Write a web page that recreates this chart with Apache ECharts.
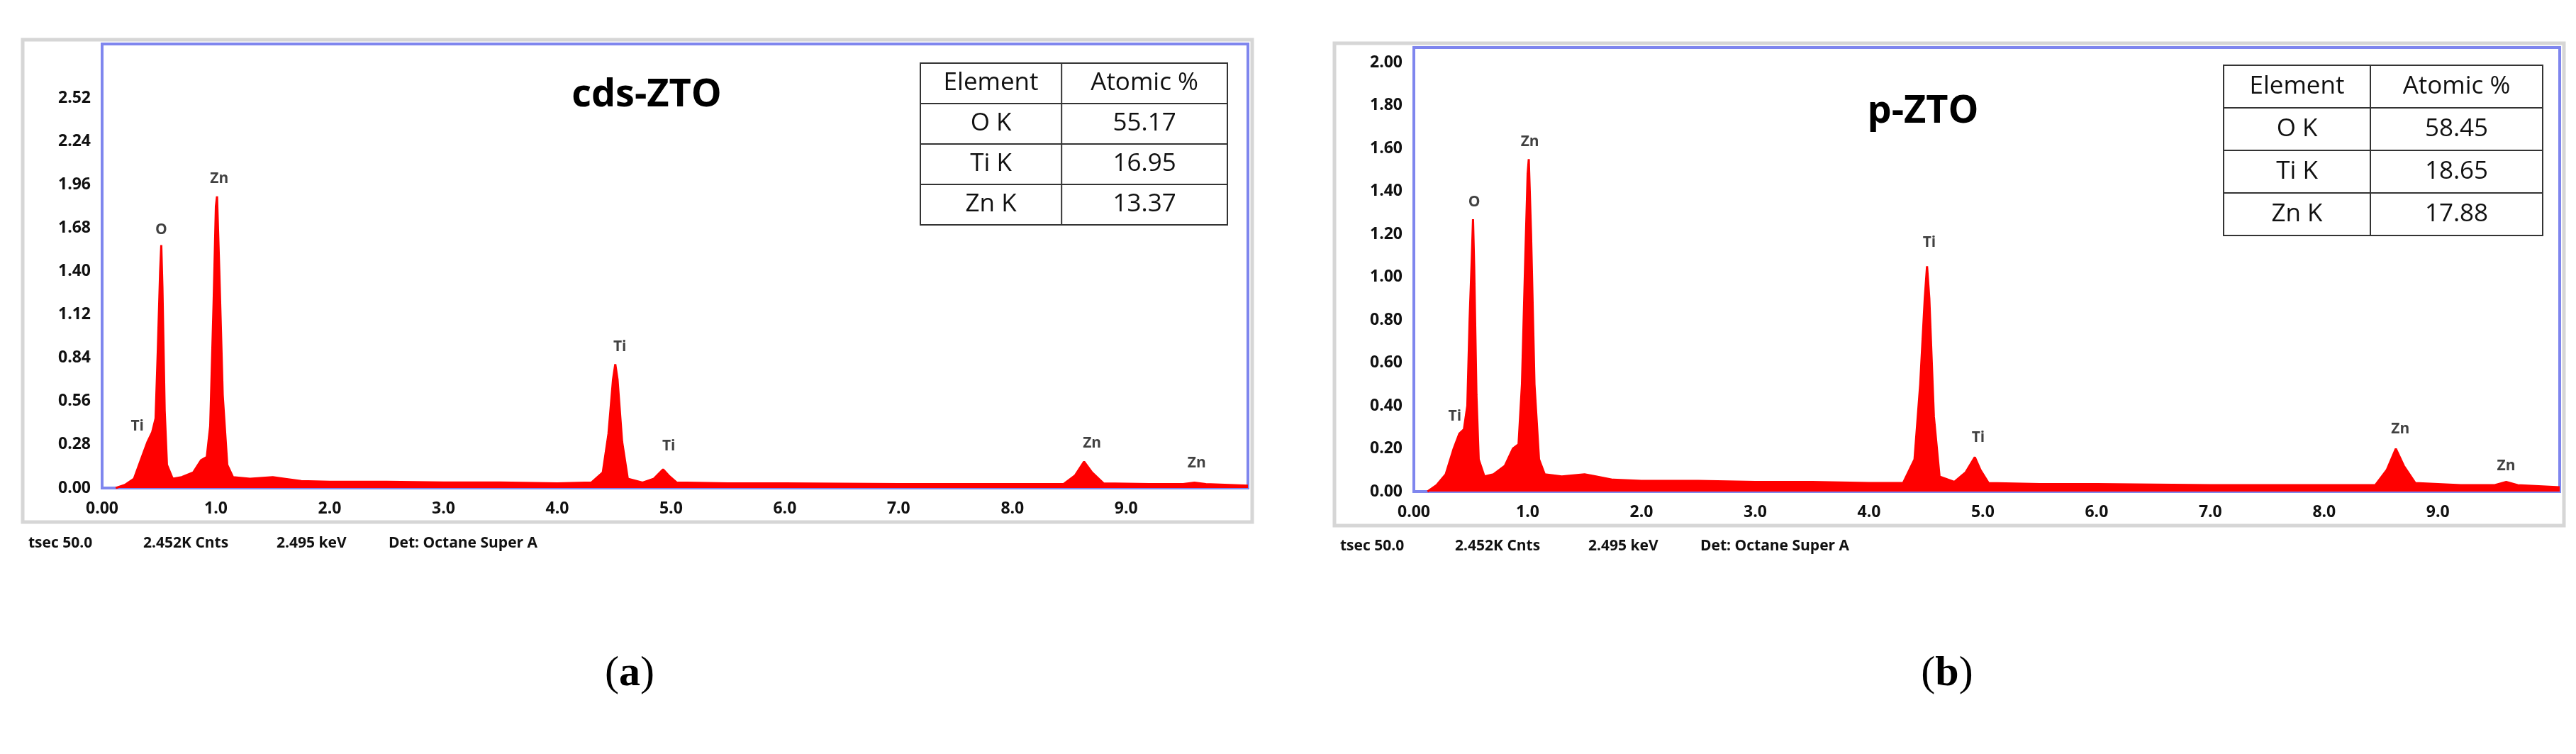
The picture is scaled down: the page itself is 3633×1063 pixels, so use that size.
<!DOCTYPE html>
<html>
<head>
<meta charset="utf-8">
<script src="https://cdn.jsdelivr.net/npm/echarts@6/dist/echarts.min.js"></script>
<style>html,body{margin:0;background:#fff}</style>
</head>
<body>
<div id="main" style="width:3633px;height:1063px;"></div>
<script>
// spectrum (a) cds-ZTO, [keV, counts]
var specA = [[0.12,0],[0.2,0.02],[0.28,0.06],[0.35,0.2],[0.40,0.3],[0.44,0.36],[0.47,0.45],[0.49,0.9],[0.51,1.4],[0.52,1.57],[0.53,1.3],[0.55,0.5],[0.57,0.15],[0.62,0.06],[0.7,0.07],[0.8,0.1],[0.87,0.18],[0.92,0.2],[0.95,0.4],[0.98,1.2],[1.0,1.82],[1.01,1.885],[1.03,1.4],[1.06,0.6],[1.1,0.15],[1.15,0.07],[1.3,0.06],[1.5,0.07],[1.6,0.06],[1.75,0.045],[2.0,0.04],[2.5,0.04],[3.0,0.035],[3.5,0.035],[4.0,0.03],[4.3,0.035],[4.4,0.1],[4.45,0.35],[4.49,0.7],[4.51,0.8],[4.53,0.7],[4.57,0.3],[4.62,0.06],[4.75,0.035],[4.85,0.06],[4.93,0.12],[4.98,0.08],[5.05,0.035],[5.5,0.03],[6.0,0.03],[7.0,0.025],[8.0,0.025],[8.45,0.025],[8.55,0.08],[8.63,0.17],[8.7,0.1],[8.8,0.03],[9.2,0.025],[9.5,0.025],[9.6,0.035],[9.7,0.025],[10.07,0.015]];
// spectrum (b) p-ZTO
var specB = [[0.12,0],[0.2,0.03],[0.28,0.08],[0.35,0.2],[0.40,0.27],[0.44,0.29],[0.47,0.4],[0.49,0.8],[0.51,1.1],[0.52,1.27],[0.53,1.05],[0.55,0.45],[0.57,0.15],[0.62,0.07],[0.7,0.08],[0.8,0.12],[0.87,0.2],[0.92,0.22],[0.95,0.5],[0.98,1.1],[1.0,1.48],[1.01,1.55],[1.03,1.2],[1.06,0.5],[1.1,0.15],[1.15,0.08],[1.3,0.07],[1.5,0.08],[1.6,0.07],[1.75,0.055],[2.0,0.05],[2.5,0.05],[3.0,0.045],[3.5,0.045],[4.0,0.04],[4.3,0.04],[4.4,0.15],[4.45,0.5],[4.49,0.9],[4.51,1.05],[4.53,0.9],[4.57,0.35],[4.62,0.07],[4.75,0.045],[4.85,0.09],[4.93,0.16],[4.98,0.1],[5.05,0.04],[5.5,0.035],[6.0,0.035],[7.0,0.03],[8.0,0.03],[8.45,0.03],[8.55,0.1],[8.63,0.2],[8.7,0.12],[8.8,0.04],[9.2,0.03],[9.5,0.03],[9.6,0.045],[9.7,0.03],[10.07,0.02]];
// peak labels [keV, y, text]
var peaksA = [[0.31,0.40,'Ti'],[0.52,1.67,'O'],[1.03,2.0,'Zn'],[4.55,0.91,'Ti'],[4.98,0.27,'Ti'],[8.7,0.29,'Zn'],[9.62,0.16,'Zn']];
var peaksB = [[0.36,0.35,'Ti'],[0.53,1.35,'O'],[1.02,1.63,'Zn'],[4.53,1.16,'Ti'],[4.96,0.25,'Ti'],[8.67,0.29,'Zn'],[9.6,0.12,'Zn']];
var xTickLabels = ['0.00','1.0','2.0','3.0','4.0','5.0','6.0','7.0','8.0','9.0'];
var tableHeader = ['Element','Atomic %'];
var elements = ['O K','Ti K','Zn K'];
var atomicA = ['55.17','16.95','13.37'];
var atomicB = ['58.45','18.65','17.88'];
var titles = ['cds-ZTO','p-ZTO'];
var footer = ['tsec 50.0','2.452K Cnts','2.495 keV','Det: Octane Super A'];
var panelLetters = ['a','b'];

var FONT = 'Open Sans';
var chart = echarts.init(document.getElementById('main'));

function xAxis(i){
  return {gridIndex:i,type:'value',min:0,max:10.07,interval:1,
    axisLine:{show:false},axisTick:{show:false},splitLine:{show:false},
    axisLabel:{margin:18,fontFamily:FONT,fontWeight:'bold',fontSize:23,color:'#111',
      formatter:function(v){var k=Math.round(v);return (Math.abs(v-k)<1e-6&&k<xTickLabels.length)?xTickLabels[k]:'';}}};
}
function yAxis(i,max,step,top){
  return {gridIndex:i,type:'value',min:0,max:max,interval:step,
    axisLine:{show:false},axisTick:{show:false},splitLine:{show:false},
    axisLabel:{margin:16,fontFamily:FONT,fontWeight:'bold',fontSize:23,color:'#111',
      formatter:function(v){return v>top?'':v.toFixed(2);}}};
}
function spec(i,d){
  return {type:'line',xAxisIndex:i,yAxisIndex:i,data:d,symbol:'none',silent:true,
    lineStyle:{color:'#ff0000',width:3},areaStyle:{color:'#ff0000',opacity:1}};
}
function peaks(i,d){
  return {type:'scatter',xAxisIndex:i,yAxisIndex:i,symbolSize:0,silent:true,
    data:d.map(function(p){return {value:[p[0],p[1]],name:p[2]};}),
    label:{show:true,position:'inside',formatter:'{b}',fontFamily:FONT,fontWeight:'bold',fontSize:21,color:'#111'}};
}

var graphic = [];
var panels = [
  {ox:0, box:[144,62,1616,626], title:[912,135], table:[1298,89,433,228], vals:atomicA, foot:766, lab:888},
  {ox:1850, box:[1994,67,1616,626], title:[2712,158], table:[3136,92,450,240], vals:atomicB, foot:770, lab:2746}
];
panels.forEach(function(p,i){
  // outer frame
  graphic.push({type:'rect',z:-1,shape:{x:p.ox+32,y:p.box[1]-6,width:1734,height:680},
    style:{fill:'#fff',stroke:'#d6d6d6',lineWidth:5}});
  graphic.push({type:'text',x:p.title[0],y:p.title[1],style:{text:titles[i],font:'bold 54px '+FONT,fill:'#000',textAlign:'center',textVerticalAlign:'middle'}});
  var t=p.table, rh=t[3]/4, c1=t[2]*0.46;
  graphic.push({type:'rect',z:10,shape:{x:t[0],y:t[1],width:t[2],height:t[3]},style:{fill:'#fff',stroke:'#333',lineWidth:2}});
  graphic.push({type:'line',z:10,shape:{x1:t[0]+c1,y1:t[1],x2:t[0]+c1,y2:t[1]+t[3]},style:{stroke:'#333',lineWidth:2}});
  var rows=[tableHeader].concat(elements.map(function(e,k){return [e,p.vals[k]];}));
  rows.forEach(function(r,k){
    if(k>0) graphic.push({type:'line',z:10,shape:{x1:t[0],y1:t[1]+k*rh,x2:t[0]+t[2],y2:t[1]+k*rh},style:{stroke:'#333',lineWidth:2}});
    graphic.push({type:'text',z:11,x:t[0]+c1/2,y:t[1]+(k+0.5)*rh,style:{text:r[0],font:'35px '+FONT,fill:'#111',textAlign:'center',textVerticalAlign:'middle'}});
    graphic.push({type:'text',z:11,x:t[0]+c1+(t[2]-c1)/2,y:t[1]+(k+0.5)*rh,style:{text:r[1],font:'35px '+FONT,fill:'#111',textAlign:'center',textVerticalAlign:'middle'}});
  });
  var fx=[40,202,390,548];
  footer.forEach(function(s,k){
    graphic.push({type:'text',x:p.ox+fx[k],y:p.foot,style:{text:s,font:'bold 21px '+FONT,fill:'#111',textVerticalAlign:'middle'}});
  });
  graphic.push({type:'text',x:p.lab,y:950,style:{text:'(' + '{b|'+panelLetters[i]+'}' + ')',
    rich:{b:{fontFamily:'Liberation Serif',fontWeight:'bold',fontSize:60,fill:'#000'}},
    font:'60px "Liberation Serif"',fill:'#000',textAlign:'center',textVerticalAlign:'middle'}});
});

chart.setOption({
  animation:false,
  grid:panels.map(function(p){return {left:p.box[0],top:p.box[1],width:p.box[2],height:p.box[3],show:true,borderColor:'#7f86ee',borderWidth:4,backgroundColor:'#fff'};}),
  xAxis:[xAxis(0),xAxis(1)],
  yAxis:[yAxis(0,2.87,0.28,2.6),yAxis(1,2.07,0.2,2.01)],
  series:[spec(0,specA),spec(1,specB),peaks(0,peaksA),peaks(1,peaksB)],
  graphic:graphic
});
</script>
</body>
</html>
